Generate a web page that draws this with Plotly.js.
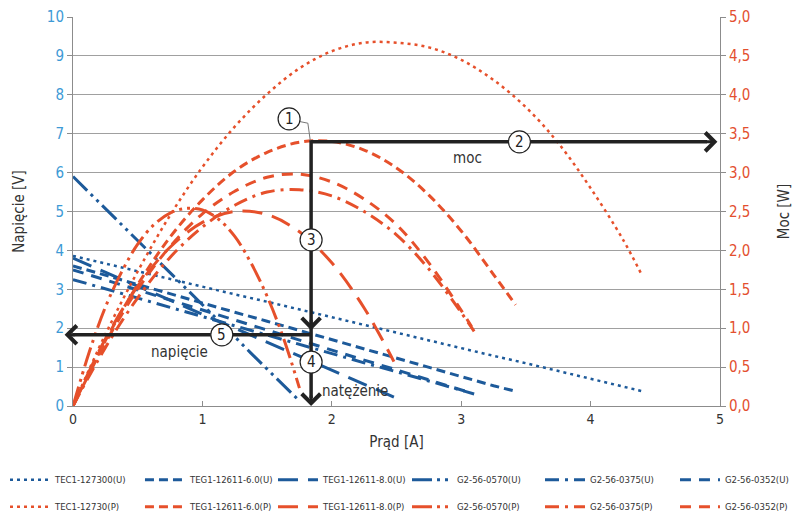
<!DOCTYPE html>
<html>
<head>
<meta charset="utf-8">
<script src="https://cdn.plot.ly/plotly-3.0.1.min.js"></script>
<style>html,body{margin:0;padding:0;background:#fff;}#chart{width:800px;height:521px;}</style>
</head>
<body>
<div id="chart"></div>
<script>
// ---- data ----
const names = ['TEC1-127300', 'TEG1-12611-6.0', 'TEG1-12611-8.0', 'G2-56-0570', 'G2-56-0375', 'G2-56-0352'];
const powerNames = ['TEC1-12730', 'TEG1-12611-6.0', 'TEG1-12611-8.0', 'G2-56-0570', 'G2-56-0375', 'G2-56-0352'];

// current [A]
const iTEC1 = [0, 0.25, 0.5, 0.75, 1.0, 1.25, 1.5, 1.75, 2.0, 2.25, 2.5, 2.75, 3.0, 3.25, 3.5, 3.75, 4.0, 4.25, 4.4];
const iTEG6 = [0, 0.25, 0.5, 0.75, 1.0, 1.25, 1.5, 1.75, 2.0, 2.25, 2.5, 2.75, 3.0, 3.25, 3.42];
const iTEG8 = [0, 0.25, 0.5, 0.75, 1.0, 1.25, 1.5, 1.75, 2.0, 2.25, 2.48];
const i0570 = [0, 0.125, 0.25, 0.375, 0.5, 0.625, 0.75, 0.875, 1.0, 1.125, 1.25, 1.375, 1.5, 1.625, 1.75];
const i0375 = [0, 0.25, 0.5, 0.75, 1.0, 1.25, 1.5, 1.75, 2.0, 2.25, 2.5, 2.75, 3.0, 3.1];
const i0352 = [0, 0.25, 0.5, 0.75, 1.0, 1.25, 1.5, 1.75, 2.0, 2.25, 2.5, 2.75, 3.0, 3.08];

// voltage [V]
const uTEC1 = [3.86, 3.66, 3.47, 3.27, 3.07, 2.87, 2.68, 2.48, 2.28, 2.08, 1.89, 1.69, 1.49, 1.29, 1.10, 0.90, 0.70, 0.50, 0.38];
const uTEG6 = [3.60, 3.36, 3.13, 2.89, 2.65, 2.41, 2.18, 1.94, 1.70, 1.46, 1.23, 0.99, 0.75, 0.52, 0.38];
const uTEG8 = [3.80, 3.44, 3.08, 2.72, 2.36, 2.00, 1.64, 1.28, 0.92, 0.56, 0.23];
const u0570 = [5.90, 5.49, 5.08, 4.66, 4.25, 3.84, 3.43, 3.01, 2.60, 2.19, 1.78, 1.36, 0.95, 0.54, 0.13];
const u0375 = [3.25, 3.01, 2.78, 2.54, 2.30, 2.06, 1.83, 1.59, 1.35, 1.11, 0.88, 0.64, 0.40, 0.31];
const u0352 = [3.50, 3.24, 2.99, 2.73, 2.47, 2.21, 1.96, 1.70, 1.44, 1.18, 0.93, 0.67, 0.41, 0.33];

// power [W]
const pTEC1 = [0, 0.92, 1.73, 2.45, 3.07, 3.59, 4.01, 4.34, 4.56, 4.67, 4.67, 4.61, 4.45, 4.19, 3.84, 3.38, 2.80, 2.14, 1.67];
const pTEG6 = [0, 0.84, 1.56, 2.17, 2.65, 3.02, 3.26, 3.39, 3.40, 3.29, 3.06, 2.71, 2.25, 1.69, 1.30];
const pTEG8 = [0, 0.86, 1.54, 2.04, 2.36, 2.50, 2.46, 2.24, 1.84, 1.26, 0.57];
const p0570 = [0, 0.69, 1.27, 1.72, 2.08, 2.33, 2.48, 2.54, 2.52, 2.40, 2.18, 1.84, 1.41, 0.88, 0.23];
const p0375 = [0, 0.75, 1.39, 1.91, 2.30, 2.58, 2.75, 2.78, 2.70, 2.50, 2.20, 1.76, 1.20, 0.96];
const p0352 = [0, 0.81, 1.50, 2.05, 2.47, 2.76, 2.94, 2.98, 2.88, 2.66, 2.33, 1.84, 1.23, 1.02];

// operating point annotations
const opCurrent = 1.84;   // natężenie
const opPower = 3.395;    // moc (on the right axis)
const opVoltage = 1.83;   // napięcie

// ---- styling ----
const BLUE = '#1d5a9a';
const RED = '#e6502b';
const dashes = ['3px,4px', '9px,5px', '20px,10px', '20px,5px,3px,5px,3px,5px', '14px,6px,3px,6px', '11px,8px'];
const FONT = '"Liberation Sans Narrow","DejaVu Sans Condensed","Arial Narrow",sans-serif';

const iArr = [iTEC1, iTEG6, iTEG8, i0570, i0375, i0352];
const uArr = [uTEC1, uTEG6, uTEG8, u0570, u0375, u0352];
const pArr = [pTEC1, pTEG6, pTEG8, p0570, p0375, p0352];
const legendIds = ['legend', 'legend2', 'legend3', 'legend4', 'legend5', 'legend6'];
const legendX = [-0.1051, 0.1035, 0.3091, 0.5162, 0.7218, 0.9304];

const traces = [];
for (let k = 0; k < 6; k++) {
  traces.push({
    x: iArr[k], y: uArr[k], type: 'scatter', mode: 'lines',
    name: names[k] + '(U)', legend: legendIds[k], legendgroup: 'u' + k,
    line: {color: BLUE, width: k === 0 ? 2.5 : 3, dash: dashes[k]},
    xaxis: 'x', yaxis: 'y', hoverinfo: 'skip'
  });
  traces.push({
    x: iArr[k], y: pArr[k], type: 'scatter', mode: 'lines',
    name: powerNames[k] + '(P)', legend: legendIds[k], legendgroup: 'p' + k,
    line: {color: RED, width: k === 0 ? 2.5 : 3, dash: dashes[k], shape: 'spline', smoothing: 1},
    xaxis: 'x', yaxis: 'y2', hoverinfo: 'skip'
  });
}

const AX = '#8c8c8c';
const BLK = '#222222';

function circle(x, y) {
  return {type: 'circle', xref: 'x', yref: 'y', xsizemode: 'pixel', ysizemode: 'pixel',
    xanchor: x, yanchor: y, x0: -11, x1: 11, y0: -11, y1: 11,
    fillcolor: '#ffffff', line: {color: BLK, width: 1.2}, layer: 'above'};
}
function num(t, x, y) {
  return {text: t, x: x, y: y, xref: 'x', yref: 'y', showarrow: false,
    font: {family: FONT, size: 15, color: BLK}};
}
function head(x, y, ax, ay, xref, yref) {
  return {text: '', x: x, y: y, xref: xref || 'x', yref: yref || 'y', ax: ax, ay: ay,
    showarrow: true, arrowhead: 4, arrowsize: 1.2, arrowwidth: 3, arrowcolor: BLK, standoff: 0};
}

const vOfP = opPower * 2; // same height on the left axis
const layout = {
  width: 800, height: 521,
  margin: {l: 73, r: 80, t: 17, b: 115, autoexpand: false},
  paper_bgcolor: '#ffffff', plot_bgcolor: '#ffffff',
  separators: ', ',
  font: {family: FONT, size: 13, color: '#333'},
  xaxis: {
    range: [0, 5], dtick: 1, showgrid: false, zeroline: false, automargin: false,
    showline: true, linecolor: AX, linewidth: 1,
    ticks: 'inside', ticklen: 5, tickcolor: AX,
    tickfont: {family: FONT, size: 14, color: '#333'},
    title: {text: 'Prąd [A]', font: {family: FONT, size: 15, color: '#333'}, standoff: 10}
  },
  yaxis: {
    range: [0, 10], dtick: 1, showgrid: true, gridcolor: '#a0a0a0', gridwidth: 1, automargin: false,
    zeroline: false, showline: true, linecolor: AX,
    ticks: 'outside', ticklen: 5, tickcolor: AX,
    tickfont: {family: FONT, size: 15, color: '#3d9ad6'},
    title: {text: 'Napięcie [V]', font: {family: FONT, size: 15, color: '#333'}, standoff: 18}
  },
  yaxis2: {
    range: [0, 5], dtick: 0.5, tickformat: '.1f', overlaying: 'y', side: 'right', automargin: false,
    showgrid: false, zeroline: false, showline: true, linecolor: AX,
    ticks: 'outside', ticklen: 5, tickcolor: AX,
    tickfont: {family: FONT, size: 15, color: '#e34f2f'},
    title: {text: 'Moc [W]', font: {family: FONT, size: 15, color: '#333'}, standoff: 29}
  },
  showlegend: true,
  shapes: [
    // leader of (1)
    {type: 'path', xref: 'x', yref: 'y', path: 'M 1.755,7.31 L 1.815,7.27 L 1.835,' + vOfP,
      line: {color: '#777', width: 1}, layer: 'above'},
    {type: 'line', xref: 'x', yref: 'y', x0: opCurrent, x1: 4.9, y0: vOfP, y1: vOfP,
      line: {color: BLK, width: 3.5}, layer: 'above'},
    {type: 'line', xref: 'x', yref: 'y', x0: opCurrent, x1: opCurrent, y0: vOfP + 0.04, y1: 0.2,
      line: {color: BLK, width: 3.5}, layer: 'above'},
    {type: 'line', xref: 'paper', yref: 'y', x0: opCurrent / 5, x1: 0.0, y0: opVoltage, y1: opVoltage,
      line: {color: BLK, width: 3.5}, layer: 'above'},
    circle(1.67, 7.38), circle(3.45, vOfP), circle(opCurrent, 4.27), circle(opCurrent, 1.13), circle(1.15, opVoltage)
  ],
  annotations: [
    num('1', 1.67, 7.38), num('2', 3.45, vOfP), num('3', opCurrent, 4.27), num('4', opCurrent, 1.13), num('5', 1.15, opVoltage),
    head(4.98, vOfP, -12, 0),
    head(opCurrent, 1.95, 0, -12),
    head(opCurrent, 0.0, 0, -12),
    head(-0.013, opVoltage, 12, 0, 'paper', 'y'),
    {text: 'moc', x: 3.05, y: 6.38, xref: 'x', yref: 'y', showarrow: false, font: {family: FONT, size: 15, color: '#333'}},
    {text: 'napięcie', x: 0.82, y: 1.40, xref: 'x', yref: 'y', showarrow: false, font: {family: FONT, size: 15, color: '#333'}},
    {text: 'natężenie', x: 2.18, y: 0.38, xref: 'x', yref: 'y', showarrow: false, font: {family: FONT, size: 15, color: '#333'}}
  ]
};
for (let k = 0; k < 6; k++) {
  layout[legendIds[k]] = {
    orientation: 'v', x: legendX[k], xanchor: 'left', y: -0.152, yanchor: 'top',
    font: {family: FONT, size: 9.5, color: '#333'}, bgcolor: 'rgba(0,0,0,0)',
    tracegroupgap: 8, itemwidth: 40, traceorder: 'grouped'
  };
}

Plotly.newPlot('chart', traces, layout, {staticPlot: true, displayModeBar: false});
</script>
</body>
</html>
